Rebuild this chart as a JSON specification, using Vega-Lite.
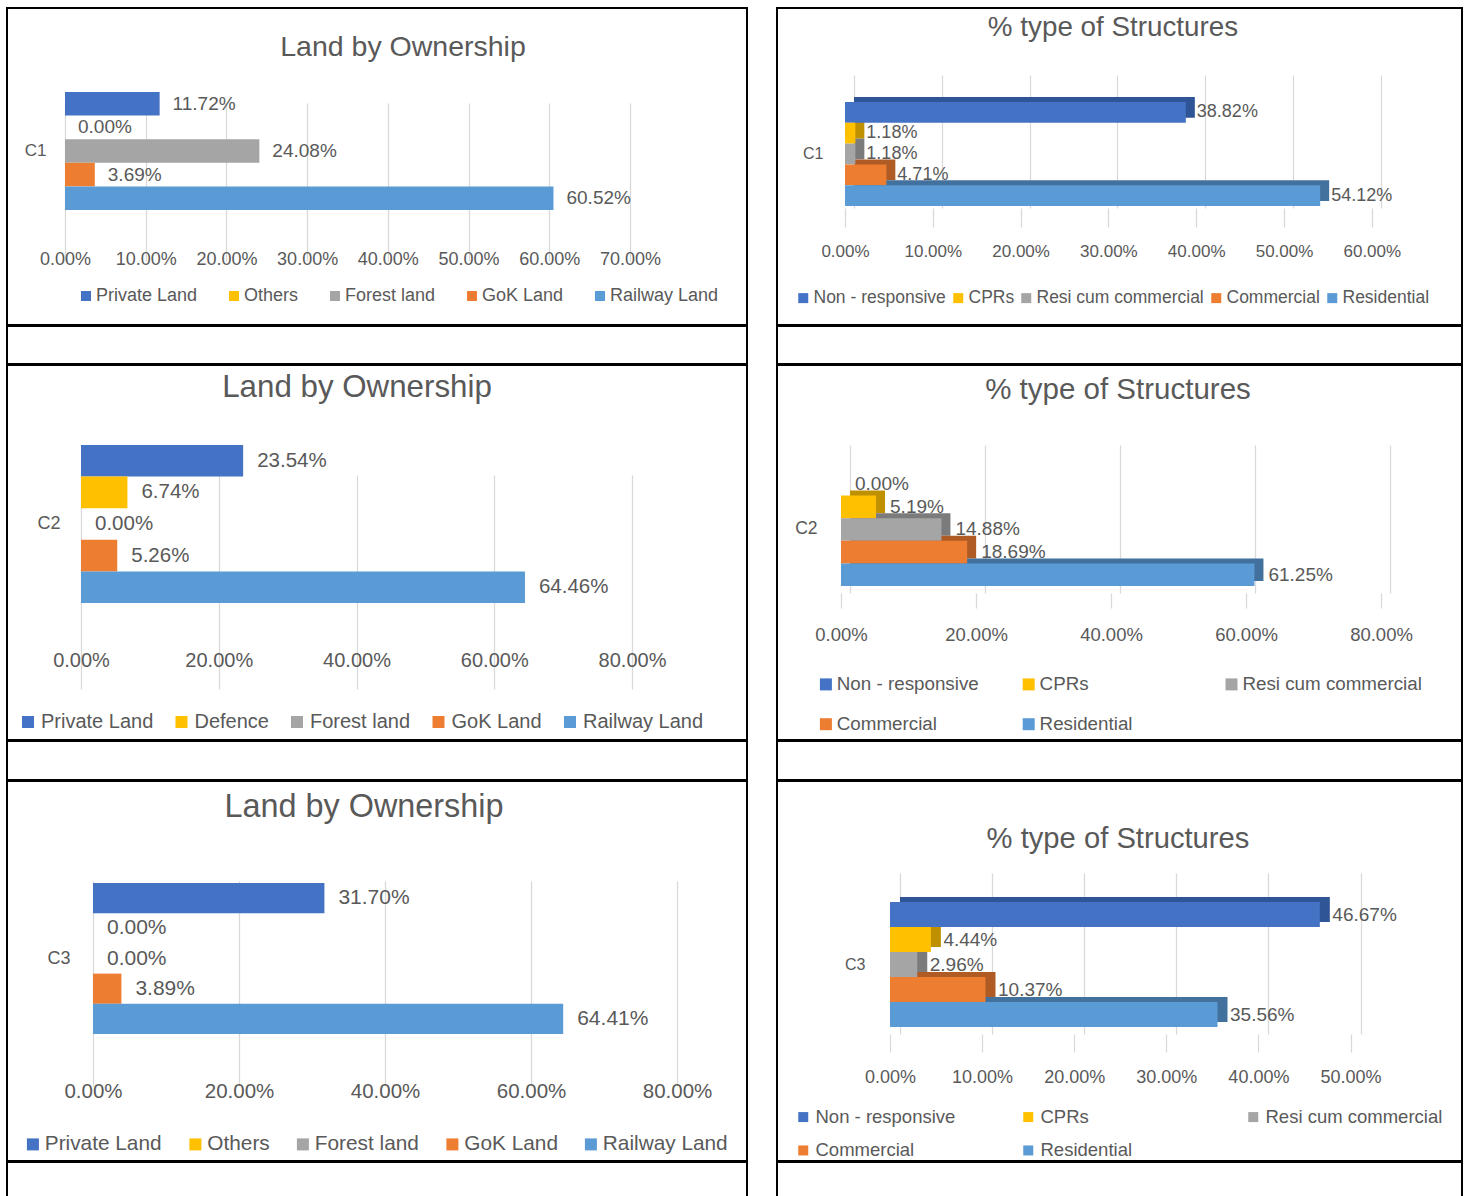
{
  "$schema": "https://vega.github.io/schema/vega-lite/v6.json",
  "background": "white",
  "padding": {"left": 6, "top": 7, "right": 0, "bottom": 0},
  "spacing": -3,
  "resolve": {"scale": {"color": "independent", "yOffset": "independent", "x": "independent", "y": "independent"}, "legend": {"color": "independent"}},
  "config": {
    "view": {"stroke": "#000000", "strokeWidth": 2},
    "font": "Liberation Sans",
    "axis": {"labelColor": "#595959", "labelFont": "Liberation Sans", "domain": false, "ticks": false, "labelPadding": 0, "gridColor": "#D9D9D9", "gridWidth": 1.3, "tickColor": "#D9D9D9", "tickWidth": 1.3, "labelFlush": false, "labelOverlap": false},
    "legend": {"symbolType": "square", "labelColor": "#595959", "labelFont": "Liberation Sans", "padding": 0, "symbolStrokeWidth": 0, "labelLimit": 400},
    "title": {"color": "#595959", "font": "Liberation Sans", "fontWeight": "normal", "anchor": "middle", "frame": "group"},
    "text": {"color": "#595959", "font": "Liberation Sans"}
  },
  "datasets": {
    "landC1": [
      {"group": "C1", "series": "Private Land", "value": 0.1172},
      {"group": "C1", "series": "Others", "value": 0.0},
      {"group": "C1", "series": "Forest land", "value": 0.2408},
      {"group": "C1", "series": "GoK Land", "value": 0.0369},
      {"group": "C1", "series": "Railway Land", "value": 0.6052}
    ],
    "landC2": [
      {"group": "C2", "series": "Private Land", "value": 0.2354},
      {"group": "C2", "series": "Defence", "value": 0.0674},
      {"group": "C2", "series": "Forest land", "value": 0.0},
      {"group": "C2", "series": "GoK Land", "value": 0.0526},
      {"group": "C2", "series": "Railway Land", "value": 0.6446}
    ],
    "landC3": [
      {"group": "C3", "series": "Private Land", "value": 0.317},
      {"group": "C3", "series": "Others", "value": 0.0},
      {"group": "C3", "series": "Forest land", "value": 0.0},
      {"group": "C3", "series": "GoK Land", "value": 0.0389},
      {"group": "C3", "series": "Railway Land", "value": 0.6441}
    ],
    "strC1": [
      {"group": "C1", "series": "Non - responsive", "value": 0.3882},
      {"group": "C1", "series": "CPRs", "value": 0.0118},
      {"group": "C1", "series": "Resi cum commercial", "value": 0.0118},
      {"group": "C1", "series": "Commercial", "value": 0.0471},
      {"group": "C1", "series": "Residential", "value": 0.5412}
    ],
    "strC2": [
      {"group": "C2", "series": "Non - responsive", "value": 0.0},
      {"group": "C2", "series": "CPRs", "value": 0.0519},
      {"group": "C2", "series": "Resi cum commercial", "value": 0.1488},
      {"group": "C2", "series": "Commercial", "value": 0.1869},
      {"group": "C2", "series": "Residential", "value": 0.6125}
    ],
    "strC3": [
      {"group": "C3", "series": "Non - responsive", "value": 0.4667},
      {"group": "C3", "series": "CPRs", "value": 0.0444},
      {"group": "C3", "series": "Resi cum commercial", "value": 0.0296},
      {"group": "C3", "series": "Commercial", "value": 0.1037},
      {"group": "C3", "series": "Residential", "value": 0.3556}
    ]
  },
  "vconcat": [
    {
      "hconcat": [
        {
          "width": 740, "height": 317,
          "data": {"name": "landC1"},
          "title": {"text": "Land by Ownership", "fontSize": 28.5, "offset": -53, "dx": 26},
          "encoding": {
            "x": {"field": "value", "type": "quantitative", "title": null, "scale": {"domain": [0, 0.7], "range": [58, 623], "nice": false}, "axis": {"values": [0, 0.1, 0.2, 0.3, 0.4, 0.5, 0.6, 0.7], "format": ".2%", "grid": true, "offset": -66, "labelFontSize": 18, "labelBaseline": "middle"}},
            "y": {"field": "group", "type": "nominal", "title": null, "scale": {"range": [64, 222], "paddingInner": 0, "paddingOuter": 0.1695, "align": 0.5}, "axis": {"offset": -39, "labelFontSize": 17, "labelAlign": "right", "labelBaseline": "middle"}},
            "yOffset": {"field": "series", "type": "nominal", "sort": ["Private Land", "Others", "Forest land", "GoK Land", "Railway Land"], "scale": {"paddingInner": 0, "paddingOuter": 0}}
          },
          "layer": [
            {"mark": {"type": "bar"}, "encoding": {"color": {"field": "series", "type": "nominal", "scale": {"domain": ["Private Land", "Others", "Forest land", "GoK Land", "Railway Land"], "range": ["#4472C4", "#FFC000", "#A5A5A5", "#ED7D31", "#5B9BD5"]}, "legend": {"title": null, "orient": "none", "legendX": 70, "legendY": 279, "direction": "horizontal", "symbolSize": 100, "labelFontSize": 18, "labelOffset": 1, "columnPadding": 27}}}},
            {"mark": {"type": "text", "align": "left", "baseline": "middle", "dx": 13, "fontSize": 19}, "encoding": {"text": {"field": "value", "type": "quantitative", "format": ".2%"}}}
          ]
        },
        {
          "width": 685, "height": 317,
          "data": {"name": "strC1"},
          "title": {"text": "% type of Structures", "fontSize": 27.8, "offset": -34, "dx": -6.5},
          "resolve": {"scale": {"x": "independent", "y": "independent", "yOffset": "independent", "color": "independent"}},
          "layer": [
            {
              "mark": {"type": "bar"},
              "encoding": {
                "x": {"field": "value", "type": "quantitative", "title": null, "scale": {"domain": [0, 0.6], "range": [77, 603.8], "nice": false}, "axis": {"orient": "top", "values": [0, 0.1, 0.2, 0.3, 0.4, 0.5, 0.6], "labels": false, "grid": true}},
                "y": {"field": "group", "type": "nominal", "title": null, "scale": {"range": [67, 200], "paddingInner": 0, "paddingOuter": 0.1394, "align": 0.7586}, "axis": null},
                "yOffset": {"field": "series", "type": "nominal", "sort": ["Non - responsive", "CPRs", "Resi cum commercial", "Commercial", "Residential"], "scale": {"paddingInner": 0, "paddingOuter": 0}},
                "color": {"field": "series", "type": "nominal", "scale": {"domain": ["Non - responsive", "CPRs", "Resi cum commercial", "Commercial", "Residential"], "range": ["#2F5597", "#BF9000", "#7B7B7B", "#B05B24", "#41719C"]}, "legend": null}
              }
            },
            {
              "encoding": {
                "x": {"field": "value", "type": "quantitative", "title": null, "scale": {"domain": [0, 0.6], "range": [68, 594.8], "nice": false}, "axis": {"orient": "bottom", "values": [0, 0.1, 0.2, 0.3, 0.4, 0.5, 0.6], "format": ".2%", "grid": false, "ticks": true, "tickSize": 19, "offset": -117, "labelPadding": 24, "labelFontSize": 17, "labelBaseline": "middle"}},
                "y": {"field": "group", "type": "nominal", "title": null, "scale": {"range": [72, 205], "paddingInner": 0, "paddingOuter": 0.1394, "align": 0.7586}, "axis": {"offset": -46, "labelFontSize": 16, "labelAlign": "right", "labelBaseline": "middle"}},
                "yOffset": {"field": "series", "type": "nominal", "sort": ["Non - responsive", "CPRs", "Resi cum commercial", "Commercial", "Residential"], "scale": {"paddingInner": 0, "paddingOuter": 0}}
              },
              "layer": [
                {"mark": {"type": "bar"}, "encoding": {"color": {"field": "series", "type": "nominal", "scale": {"domain": ["Non - responsive", "CPRs", "Resi cum commercial", "Commercial", "Residential"], "range": ["#4472C4", "#FFC000", "#A5A5A5", "#ED7D31", "#5B9BD5"]}, "legend": {"title": null, "orient": "none", "legendX": 17.5, "legendY": 281, "direction": "horizontal", "symbolSize": 100, "labelFontSize": 17.5, "labelOffset": 1.5, "columnPadding": 3}}}},
                {"mark": {"type": "text", "align": "left", "baseline": "middle", "dx": 11, "fontSize": 18}, "encoding": {"text": {"field": "value", "type": "quantitative", "format": ".2%"}}}
              ]
            }
          ]
        }
      ],
      "spacing": 30,
      "bounds": "flush",
      "resolve": {"scale": {"color": "independent", "yOffset": "independent", "x": "independent", "y": "independent"}, "legend": {"color": "independent"}}
    },
    {
      "hconcat": [
        {"width": 740, "height": 38, "view": {"stroke": "#000000", "strokeWidth": 2}, "data": {"values": []}, "mark": "point", "encoding": {}},
        {"width": 685, "height": 38, "view": {"stroke": "#000000", "strokeWidth": 2}, "data": {"values": []}, "mark": "point", "encoding": {}}
      ],
      "spacing": 30,
      "bounds": "flush"
    },
    {
      "hconcat": [
        {
          "width": 740, "height": 375,
          "data": {"name": "landC2"},
          "title": {"text": "Land by Ownership", "fontSize": 31.3, "offset": -38.6, "dx": -20},
          "encoding": {
            "x": {"field": "value", "type": "quantitative", "title": null, "scale": {"domain": [0, 0.8], "range": [74, 625], "nice": false}, "axis": {"values": [0, 0.2, 0.4, 0.6, 0.8], "format": ".2%", "grid": true, "offset": -80, "labelFontSize": 20, "labelBaseline": "middle"}},
            "y": {"field": "group", "type": "nominal", "title": null, "scale": {"range": [51, 265], "paddingInner": 0, "paddingOuter": 0.1772, "align": 0.518}, "axis": {"offset": -53, "labelFontSize": 18, "labelAlign": "right", "labelBaseline": "middle"}},
            "yOffset": {"field": "series", "type": "nominal", "sort": ["Private Land", "Defence", "Forest land", "GoK Land", "Railway Land"], "scale": {"paddingInner": 0, "paddingOuter": 0}}
          },
          "layer": [
            {"mark": {"type": "bar"}, "encoding": {"color": {"field": "series", "type": "nominal", "scale": {"domain": ["Private Land", "Defence", "Forest land", "GoK Land", "Railway Land"], "range": ["#4472C4", "#FFC000", "#A5A5A5", "#ED7D31", "#5B9BD5"]}, "legend": {"title": null, "orient": "none", "legendX": 11, "legendY": 347, "direction": "horizontal", "symbolSize": 144, "labelFontSize": 20, "labelOffset": 3, "columnPadding": 17.5}}}},
            {"mark": {"type": "text", "align": "left", "baseline": "middle", "dx": 14, "fontSize": 20.5}, "encoding": {"text": {"field": "value", "type": "quantitative", "format": ".2%"}}}
          ]
        },
        {
          "width": 685, "height": 375,
          "data": {"name": "strC2"},
          "title": {"text": "% type of Structures", "fontSize": 29.5, "offset": -40.7, "dx": -1.5},
          "resolve": {"scale": {"x": "independent", "y": "independent", "yOffset": "independent", "color": "independent"}},
          "layer": [
            {
              "mark": {"type": "bar"},
              "encoding": {
                "x": {"field": "value", "type": "quantitative", "title": null, "scale": {"domain": [0, 0.8], "range": [73, 613], "nice": false}, "axis": {"orient": "top", "values": [0, 0.2, 0.4, 0.6, 0.8], "labels": false, "grid": true}},
                "y": {"field": "group", "type": "nominal", "title": null, "scale": {"range": [80, 228], "paddingInner": 0, "paddingOuter": 0.1549, "align": 0.657}, "axis": null},
                "yOffset": {"field": "series", "type": "nominal", "sort": ["Non - responsive", "CPRs", "Resi cum commercial", "Commercial", "Residential"], "scale": {"paddingInner": 0, "paddingOuter": 0}},
                "color": {"field": "series", "type": "nominal", "scale": {"domain": ["Non - responsive", "CPRs", "Resi cum commercial", "Commercial", "Residential"], "range": ["#2F5597", "#BF9000", "#7B7B7B", "#B05B24", "#41719C"]}, "legend": null}
              }
            },
            {
              "encoding": {
                "x": {"field": "value", "type": "quantitative", "title": null, "scale": {"domain": [0, 0.8], "range": [64, 604], "nice": false}, "axis": {"orient": "bottom", "values": [0, 0.2, 0.4, 0.6, 0.8], "format": ".2%", "grid": false, "ticks": true, "tickSize": 15, "offset": -147, "labelPadding": 26, "labelFontSize": 18.5, "labelBaseline": "middle"}},
                "y": {"field": "group", "type": "nominal", "title": null, "scale": {"range": [85, 233], "paddingInner": 0, "paddingOuter": 0.1549, "align": 0.657}, "axis": {"offset": -40, "labelFontSize": 17.5, "labelAlign": "right", "labelBaseline": "middle"}},
                "yOffset": {"field": "series", "type": "nominal", "sort": ["Non - responsive", "CPRs", "Resi cum commercial", "Commercial", "Residential"], "scale": {"paddingInner": 0, "paddingOuter": 0}}
              },
              "layer": [
                {"mark": {"type": "bar"}, "encoding": {"color": {"field": "series", "type": "nominal", "scale": {"domain": ["Non - responsive", "CPRs", "Resi cum commercial", "Commercial", "Residential"], "range": ["#4472C4", "#FFC000", "#A5A5A5", "#ED7D31", "#5B9BD5"]}, "legend": {"title": null, "orient": "none", "legendX": 39.5, "legendY": 309.6, "direction": "horizontal", "columns": 3, "gridAlign": "all", "symbolSize": 144, "labelFontSize": 18.8, "labelOffset": 1.5, "columnPadding": 2.8, "rowPadding": 20.2}}}},
                {"mark": {"type": "text", "align": "left", "baseline": "middle", "dx": 14, "fontSize": 19}, "encoding": {"text": {"field": "value", "type": "quantitative", "format": ".2%"}}}
              ]
            }
          ]
        }
      ],
      "spacing": 30,
      "bounds": "flush",
      "resolve": {"scale": {"color": "independent", "yOffset": "independent", "x": "independent", "y": "independent"}, "legend": {"color": "independent"}}
    },
    {
      "hconcat": [
        {"width": 740, "height": 39, "view": {"stroke": "#000000", "strokeWidth": 2}, "data": {"values": []}, "mark": "point", "encoding": {}},
        {"width": 685, "height": 39, "view": {"stroke": "#000000", "strokeWidth": 2}, "data": {"values": []}, "mark": "point", "encoding": {}}
      ],
      "spacing": 30,
      "bounds": "flush"
    },
    {
      "hconcat": [
        {
          "width": 740, "height": 380,
          "data": {"name": "landC3"},
          "title": {"text": "Land by Ownership", "fontSize": 32.4, "offset": -42.2, "dx": -13},
          "encoding": {
            "x": {"field": "value", "type": "quantitative", "title": null, "scale": {"domain": [0, 0.8], "range": [86, 670], "nice": false}, "axis": {"values": [0, 0.2, 0.4, 0.6, 0.8], "format": ".2%", "grid": true, "offset": -70, "labelFontSize": 20.5, "labelBaseline": "middle"}},
            "y": {"field": "group", "type": "nominal", "title": null, "scale": {"range": [75, 280], "paddingInner": 0, "paddingOuter": 0.1788, "align": 0.5}, "axis": {"offset": -63, "labelFontSize": 18, "labelAlign": "right", "labelBaseline": "middle"}},
            "yOffset": {"field": "series", "type": "nominal", "sort": ["Private Land", "Others", "Forest land", "GoK Land", "Railway Land"], "scale": {"paddingInner": 0, "paddingOuter": 0}}
          },
          "layer": [
            {"mark": {"type": "bar"}, "encoding": {"color": {"field": "series", "type": "nominal", "scale": {"domain": ["Private Land", "Others", "Forest land", "GoK Land", "Railway Land"], "range": ["#4472C4", "#FFC000", "#A5A5A5", "#ED7D31", "#5B9BD5"]}, "legend": {"title": null, "orient": "none", "legendX": 15.5, "legendY": 352.6, "direction": "horizontal", "symbolSize": 144, "labelFontSize": 20.8, "labelOffset": 1.5, "columnPadding": 22.5}}}},
            {"mark": {"type": "text", "align": "left", "baseline": "middle", "dx": 14, "fontSize": 21}, "encoding": {"text": {"field": "value", "type": "quantitative", "format": ".2%"}}}
          ]
        },
        {
          "width": 685, "height": 380,
          "data": {"name": "strC3"},
          "title": {"text": "% type of Structures", "fontSize": 29.2, "offset": -73.6, "dx": -1.5},
          "resolve": {"scale": {"x": "independent", "y": "independent", "yOffset": "independent", "color": "independent"}},
          "layer": [
            {
              "mark": {"type": "bar"},
              "encoding": {
                "x": {"field": "value", "type": "quantitative", "title": null, "scale": {"domain": [0, 0.5], "range": [123, 583.5], "nice": false}, "axis": {"orient": "top", "values": [0, 0.1, 0.2, 0.3, 0.4, 0.5], "labels": false, "grid": true}},
                "y": {"field": "group", "type": "nominal", "title": null, "scale": {"range": [92, 253], "paddingInner": 0, "paddingOuter": 0.144, "align": 0.6667}, "axis": null},
                "yOffset": {"field": "series", "type": "nominal", "sort": ["Non - responsive", "CPRs", "Resi cum commercial", "Commercial", "Residential"], "scale": {"paddingInner": 0, "paddingOuter": 0}},
                "color": {"field": "series", "type": "nominal", "scale": {"domain": ["Non - responsive", "CPRs", "Resi cum commercial", "Commercial", "Residential"], "range": ["#2F5597", "#BF9000", "#7B7B7B", "#B05B24", "#41719C"]}, "legend": null}
              }
            },
            {
              "encoding": {
                "x": {"field": "value", "type": "quantitative", "title": null, "scale": {"domain": [0, 0.5], "range": [113, 573.5], "nice": false}, "axis": {"orient": "bottom", "values": [0, 0.1, 0.2, 0.3, 0.4, 0.5], "format": ".2%", "grid": false, "ticks": true, "tickSize": 18, "offset": -127, "labelPadding": 25, "labelFontSize": 18, "labelBaseline": "middle"}},
                "y": {"field": "group", "type": "nominal", "title": null, "scale": {"range": [97, 258], "paddingInner": 0, "paddingOuter": 0.144, "align": 0.6667}, "axis": {"offset": -88, "labelFontSize": 16, "labelAlign": "right", "labelBaseline": "middle"}},
                "yOffset": {"field": "series", "type": "nominal", "sort": ["Non - responsive", "CPRs", "Resi cum commercial", "Commercial", "Residential"], "scale": {"paddingInner": 0, "paddingOuter": 0}}
              },
              "layer": [
                {"mark": {"type": "bar"}, "encoding": {"color": {"field": "series", "type": "nominal", "scale": {"domain": ["Non - responsive", "CPRs", "Resi cum commercial", "Commercial", "Residential"], "range": ["#4472C4", "#FFC000", "#A5A5A5", "#ED7D31", "#5B9BD5"]}, "legend": {"title": null, "orient": "none", "legendX": 17, "legendY": 326.7, "direction": "horizontal", "columns": 3, "gridAlign": "all", "symbolSize": 100, "labelFontSize": 18.5, "labelOffset": 3, "columnPadding": 26, "rowPadding": 14.5}}}},
                {"mark": {"type": "text", "align": "left", "baseline": "middle", "dx": 12.5, "fontSize": 19}, "encoding": {"text": {"field": "value", "type": "quantitative", "format": ".2%"}}}
              ]
            }
          ]
        }
      ],
      "spacing": 30,
      "bounds": "flush",
      "resolve": {"scale": {"color": "independent", "yOffset": "independent", "x": "independent", "y": "independent"}, "legend": {"color": "independent"}}
    },
    {
      "hconcat": [
        {"width": 740, "height": 36, "view": {"stroke": "#000000", "strokeWidth": 2}, "data": {"values": []}, "mark": "point", "encoding": {}},
        {"width": 685, "height": 36, "view": {"stroke": "#000000", "strokeWidth": 2}, "data": {"values": []}, "mark": "point", "encoding": {}}
      ],
      "spacing": 30,
      "bounds": "flush"
    }
  ]
}
